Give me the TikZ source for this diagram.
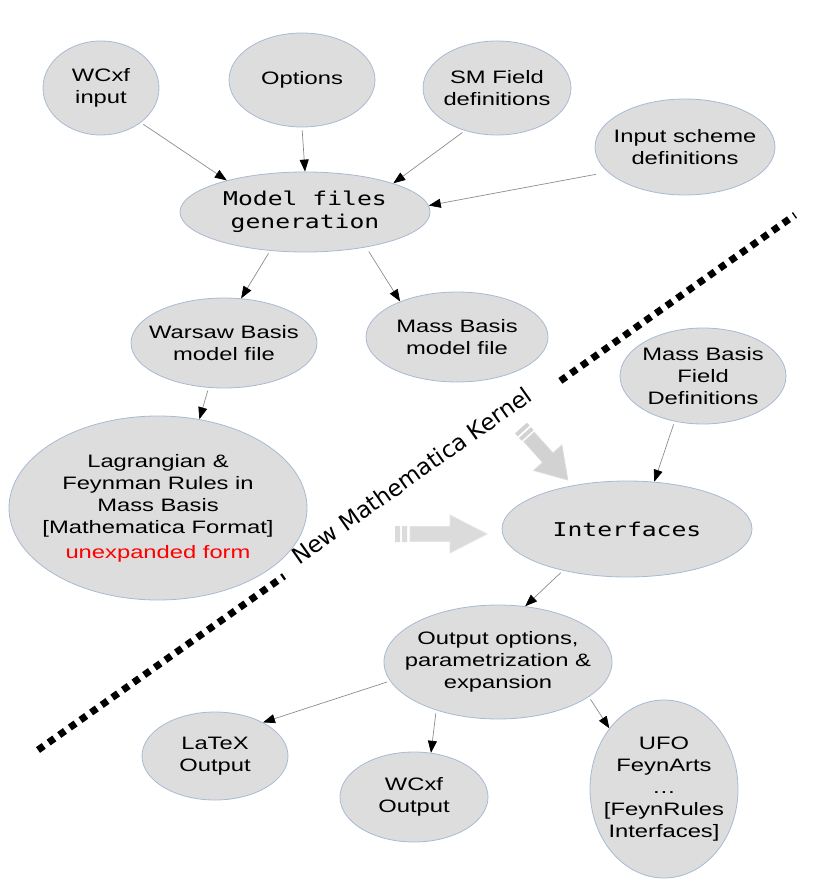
\documentclass[tikz,border=0pt]{standalone}
\usepackage{fontspec}
\setmainfont{Liberation Sans}[FakeStretch=1.32]
\newfontfamily\codefont{DejaVu Sans Mono}[FakeStretch=1.3]
\newfontfamily\kernelfont{DejaVu Sans}
\usetikzlibrary{arrows.meta, positioning, calc, shapes.geometric}
\definecolor{bubble}{HTML}{DDDDDD}
\definecolor{rim}{HTML}{A8BAD3}
\definecolor{wire}{HTML}{8C8C8C}
\definecolor{bigarrow}{HTML}{D2D2D2}

\begin{document}
\begin{tikzpicture}[x=0.5pt, y=-0.5pt, >={Triangle[length=6pt, width=4.5pt, color=black]},
  blob/.style={draw=rim, fill=bubble, ellipse, inner xsep=-12pt, inner ysep=0pt, align=center, line width=0.4pt,
    font=\fontsize{9}{11}\selectfont},
  code/.style={font=\codefont\fontsize{9.5}{11.5}\selectfont},
  flow/.style={->, draw=wire, line width=0.35pt, shorten <=1.5pt},
  kernel/.style={line width=3.5pt, dash pattern=on 3.5pt off 3pt}]

\useasboundingbox (0,0) rectangle (830,882);

% inputs of the model file generation
\node (wcxf) [blob, minimum width=58pt, minimum height=47pt] at (101,88) {WCxf\\input};
\node (opts) [blob, minimum width=73pt, minimum height=47pt] at (302,80) {Options};
\node (smfd) [blob, minimum width=74pt, minimum height=47pt] at (497,88) {SM Field\\definitions};
\node (insch) [blob, minimum width=90pt, minimum height=48pt] at (685,147) {Input scheme\\definitions};
\node (mfgen) [blob, code, minimum width=125pt, minimum height=40pt] at (305,212) {Model files\\generation};

% model files
\node (wbmf) [blob, minimum width=93pt, minimum height=45pt] at (224,343) {Warsaw Basis\\model file};
\node (mbmf) [blob, minimum width=91pt, minimum height=45pt] at (457,337) {Mass Basis\\model file};
\node (mbfd) [blob, minimum width=83pt, minimum height=48pt] at (703,376) {Mass Basis\\Field\\Definitions};
\node (lagr) [blob, minimum width=149pt, minimum height=92pt] at (158,508)
  {Lagrangian \&\\Feynman Rules in\\Mass Basis\\{[}Mathematica Format{]}\\[1.5pt]\textcolor{red}{unexpanded form}};

% interfaces and outputs
\node (intf) [blob, code, minimum width=125pt, minimum height=48pt] at (627,529) {Interfaces};
\node (outo) [blob, minimum width=114pt, minimum height=57pt] at (498,662) {Output options,\\parametrization \&\\expansion};
\node (ltxo) [blob, minimum width=73pt, minimum height=44pt] at (215,756) {LaTeX\\Output};
\node (wcxo) [blob, minimum width=74pt, minimum height=45pt] at (414,797) {WCxf\\Output};
\node (ufoi) [blob, minimum width=74pt, minimum height=89pt] at (664,789)
  {UFO\\FeynArts\\\dots\\{[}FeynRules\\Interfaces{]}};

\draw[flow] (wcxf.-41) -- (mfgen.158);
\draw[flow] (opts.south) -- (mfgen.north);
\draw[flow] (smfd.-127) -- (mfgen.18);
\draw[flow, shorten <=6pt] (insch.-162) -- (mfgen.3);
\draw[flow] (mfgen.-132) -- (wbmf.69);
\draw[flow, shorten <=2.5pt] (mfgen.-30) -- (mbmf.148);
\draw[flow] (wbmf.-109) -- (lagr.65);
\draw[flow] (mbfd.-122) -- (intf.60);
\draw[flow] (intf.-147) -- (outo.64);
\draw[flow] (outo.-170) -- (ltxo.35);
\draw[flow] (outo.-142) -- (wcxo.69);
\draw[flow] (outo.-21) -- (ufoi.132);

% kernel border
\coordinate (kA) at (38,750);
\coordinate (kB) at (795,215);
\draw[kernel] (kA) -- ($(kA)!0.325!(kB)$);
\draw[kernel] ($(kA)!0.69!(kB)$) -- (kB);
\node (kern) [font=\kernelfont\fontsize{11.5}{13}\selectfont, rotate=35.3, anchor=base, inner sep=0pt]
  at ($(kA)!0.5!(kB)$) {New Mathematica Kernel};

% big arrows into the interfaces
\begin{scope}[shift={(395,534)}]
\fill[bigarrow!80] (0,-8) rectangle (5,8) (7,-8) rectangle (12,8);
\filldraw[fill=bigarrow!80, draw=bigarrow!60, line width=0.4pt] (15,-7.5) -- (55,-7.5) -- (55,-19) -- (92,0) -- (55,19) -- (55,7.5) -- (15,7.5) -- cycle;
\end{scope}
\begin{scope}[shift={(521,428)}, rotate=-48]
\fill[bigarrow] (0,-8) rectangle (4,8) (6,-8) rectangle (10,8);
\filldraw[fill=bigarrow, draw=bigarrow!80, line width=0.4pt] (12,-7) -- (40,-7) -- (40,-19) -- (70,0) -- (40,19) -- (40,7) -- (12,7) -- cycle;
\end{scope}
\end{tikzpicture}
\end{document}
